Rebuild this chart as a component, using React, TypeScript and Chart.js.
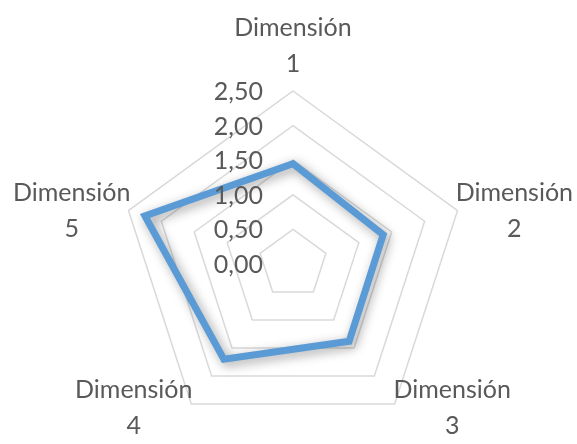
import { useEffect, useRef } from "react";
import { Chart, registerables, type Plugin } from "chart.js";

Chart.register(...registerables);

const dimensions = [
    ["Dimensión", "1"],
    ["Dimensión", "2"],
    ["Dimensión", "3"],
    ["Dimensión", "4"],
    ["Dimensión", "5"],
];
const scores = [1.45, 1.37, 1.38, 1.7, 2.25];
const tickValues = [0, 0.5, 1, 1.5, 2, 2.5];

const fmt = (v: number) => v.toFixed(2).replace(".", ",");
const FONT = "25px Lato";
const TEXT = "#595959";
const LINE_H = 36;

// tick labels sit to the left of the centre, like in Excel
const tickLabels: Plugin<"radar"> = {
    id: "tickLabels",
    afterDatasetsDraw(chart) {
        const scale: any = chart.scales.r;
        const ctx = chart.ctx;
        ctx.save();
        ctx.font = FONT;
        ctx.fillStyle = TEXT;
        ctx.textAlign = "right";
        ctx.textBaseline = "middle";
        tickValues.forEach(v => {
            const d = scale.getDistanceFromCenterForValue(v);
            ctx.fillText(fmt(v), scale.xCenter - 30, scale.yCenter - d + 1);
        });
        ctx.restore();
    }
};

// category labels hug the outer ring; each block is placed as a whole, lines centred in it
const axisLabels: Plugin<"radar"> = {
    id: "axisLabels",
    afterDraw(chart) {
        const scale: any = chart.scales.r;
        const ctx = chart.ctx;
        ctx.save();
        ctx.font = FONT;
        ctx.fillStyle = TEXT;
        ctx.textAlign = "center";
        ctx.textBaseline = "middle";
        dimensions.forEach((lines, i) => {
            const p = scale.getPointPosition(i, scale.drawingArea - 2);
            const dx = p.x - scale.xCenter;
            const w = Math.max(...lines.map(t => ctx.measureText(t).width));
            let cx: number;
            let top: number;
            if (Math.abs(dx) < 5) {
                cx = p.x;
                top = p.y - 11 - lines.length * LINE_H;
            } else {
                cx = dx > 0 ? p.x + w / 2 : p.x - w / 2;
                const shift = p.y > scale.yCenter ? 6 : 0;
                top = p.y + shift - (lines.length * LINE_H) / 2;
            }
            lines.forEach((t, j) => {
                ctx.fillText(t, cx, top + LINE_H * j + LINE_H / 2);
            });
        });
        ctx.restore();
    }
};

const lineShadow: Plugin<"radar"> = {
    id: "lineShadow",
    beforeDatasetsDraw(chart) {
        const ctx = chart.ctx;
        ctx.save();
        ctx.shadowColor = "rgba(0,0,0,0.38)";
        ctx.shadowBlur = 11;
        ctx.shadowOffsetX = 3;
        ctx.shadowOffsetY = 3;
    },
    afterDatasetsDraw(chart) {
        chart.ctx.restore();
    }
};

const App = () => {
    const chartRef = useRef<HTMLCanvasElement>(null);
    const chartInstance = useRef<Chart | null>(null);

    useEffect(() => {
        document.body.style.margin = "0";
        if (!chartRef.current) return;
        const ctx = chartRef.current.getContext("2d");
        if (!ctx) return;

        chartInstance.current = new Chart(ctx, {
            type: "radar",
            data: {
                labels: dimensions,
                datasets: [
                    {
                        label: "Puntuación",
                        data: scores,
                        borderColor: "#5B9BD5",
                        borderWidth: 7,
                        borderJoinStyle: "miter",
                        fill: false,
                        pointRadius: 0,
                        pointHoverRadius: 0,
                        tension: 0,
                    }
                ]
            },
            options: {
                responsive: true,
                maintainAspectRatio: false,
                animation: false,
                layout: {
                    padding: { top: 91, bottom: 7, left: 120, right: 111 }
                },
                plugins: {
                    legend: { display: false },
                    tooltip: { enabled: false },
                },
                scales: {
                    r: {
                        min: 0,
                        max: 2.5,
                        ticks: { stepSize: 0.5, display: false },
                        angleLines: { display: false },
                        grid: { color: "#d9d9d9", lineWidth: 1.5 },
                        pointLabels: { display: false }
                    }
                }
            },
            plugins: [lineShadow, tickLabels, axisLabels]
        });

        return () => {
            if (chartInstance.current) {
                chartInstance.current.destroy();
            }
        };
    }, []);

    return (
        <div style={{ width: 577, height: 444, position: "relative", background: "#fff" }}>
            <canvas ref={chartRef}></canvas>
        </div>
    );
};

export default App;
